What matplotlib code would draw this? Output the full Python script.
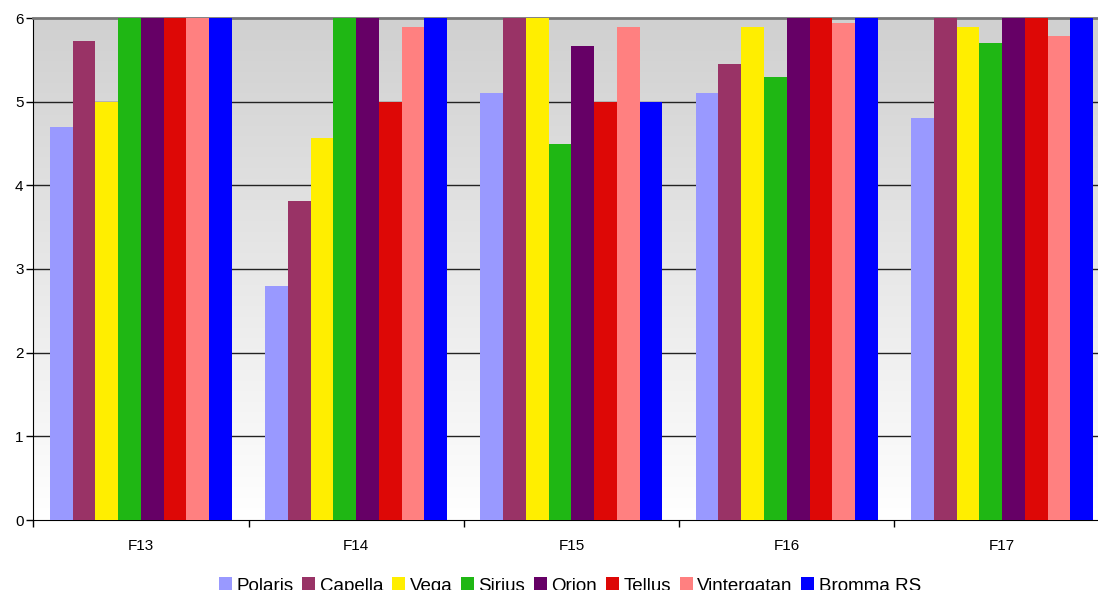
import numpy as np
import matplotlib.pyplot as plt
from matplotlib.colors import LinearSegmentedColormap

# categories and series
groups = ['F13', 'F14', 'F15', 'F16', 'F17']
series = ['Polaris', 'Capella', 'Vega', 'Sirius', 'Orion', 'Tellus', 'Vintergatan', 'Bromma RS']

polaris = [4.70, 2.80, 5.10, 5.10, 4.80]
capella = [5.73, 3.81, 6.00, 5.45, 6.00]
vega = [5.00, 4.57, 6.00, 5.89, 5.89]
sirius = [6.00, 6.00, 4.49, 5.30, 5.70]
orion = [6.00, 6.00, 5.67, 6.00, 6.00]
tellus = [6.00, 5.00, 5.00, 6.00, 6.00]
vintergatan = [6.00, 5.89, 5.89, 5.94, 5.78]
bromma = [6.00, 6.00, 5.00, 6.00, 6.00]

values = [polaris, capella, vega, sirius, orion, tellus, vintergatan, bromma]
colors = ['#9999ff', '#993366', '#ffee00', '#1fb714', '#660066', '#dd0806', '#ff8080', '#0000ff']

plt.rcParams['font.family'] = ['Liberation Sans', 'DejaVu Sans']

fig = plt.figure(figsize=(10.98, 5.90), dpi=100)
# the plot area runs a little past the right edge of the picture
ax = fig.add_axes([33.2 / 1098, 1 - 520 / 590, 1076.5 / 1098, (520 - 18) / 590])

# gradient background, grey on top to white at the bottom
grad = np.linspace(0, 1, 256).reshape(-1, 1)
cmap = LinearSegmentedColormap.from_list('bg', ['#ffffff', '#d0d0d0'])
ax.imshow(grad, cmap=cmap, aspect='auto', extent=[0, 1, 0, 1], origin='lower',
          transform=ax.transAxes, zorder=0)

x = np.arange(len(groups))
bar_w = 0.1057
for i, (name, vals) in enumerate(zip(series, values)):
    offs = (i - 3.5) * bar_w
    ax.bar(x + offs, vals, width=bar_w, color=colors[i], label=name, zorder=3,
           linewidth=0)

ax.set_xlim(-0.5, len(groups) - 0.5)
ax.set_ylim(0, 6)
ax.set_yticks(range(0, 7))
for yv in range(1, 6):
    ax.axhline(yv, color='#222222', linewidth=1.0, zorder=1)

ax.set_xticks(x)
ax.set_xticklabels(groups, fontsize=11)
ax.set_xticks(np.arange(-0.5, len(groups)), minor=True)
ax.tick_params(axis='x', which='major', length=0, pad=14)
ax.tick_params(axis='x', which='minor', length=5, width=1, direction='out')
ax.tick_params(axis='y', length=5, width=1, direction='out', labelsize=11, pad=2)

ax.spines['top'].set_color('#777777')
ax.spines['top'].set_linewidth(2)
ax.spines['right'].set_visible(False)
ax.spines['left'].set_color('black')
ax.spines['bottom'].set_color('black')

fig.legend(loc='center', bbox_to_anchor=(570 / 1098, 4 / 590), ncol=8, frameon=False,
           fontsize=13.5, handlelength=0.7, handleheight=0.7, handletextpad=0.25,
           columnspacing=0.45, borderpad=0)

fig.savefig('out.png', dpi=100)
